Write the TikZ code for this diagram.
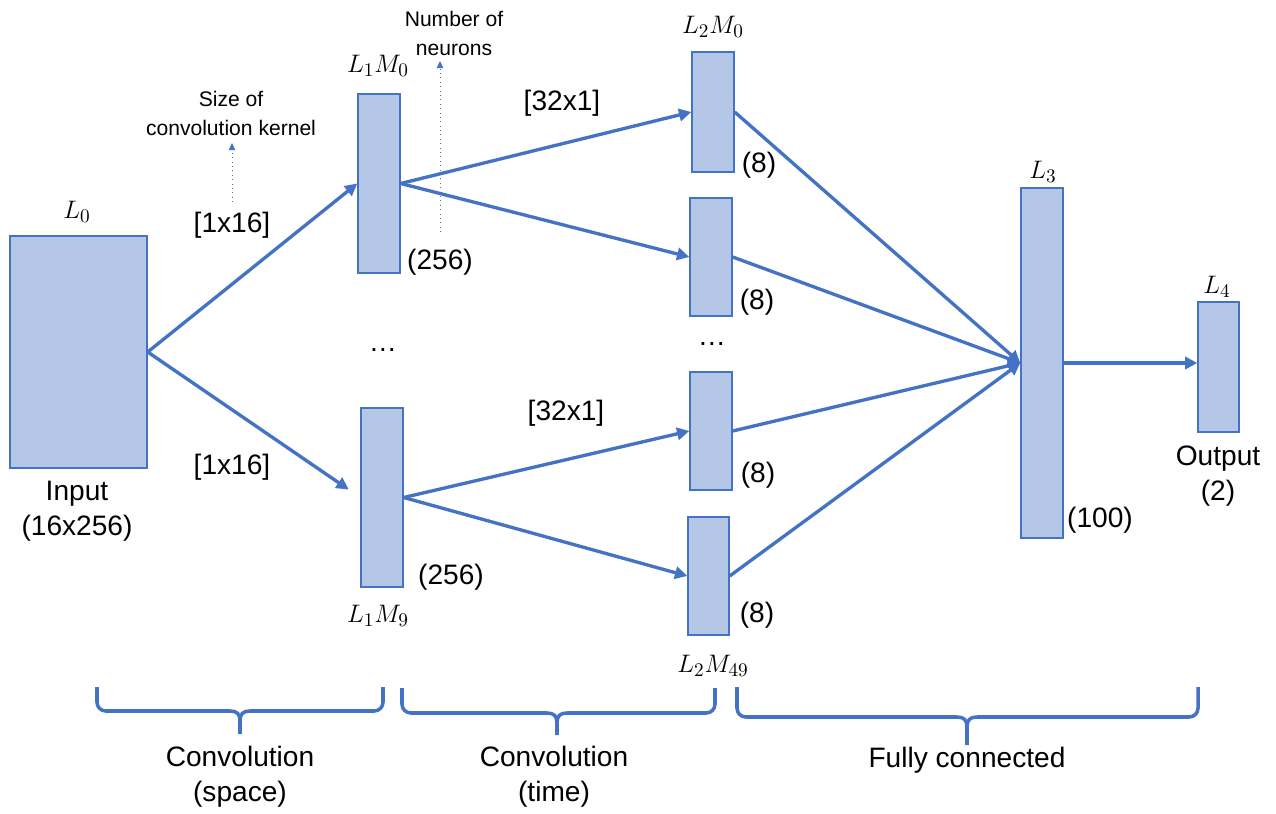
\documentclass[tikz,border=0pt]{standalone}
\usepackage{fontspec}
\setmainfont{Liberation Sans}
\usetikzlibrary{arrows.meta,fit}

\definecolor{boxfill}{HTML}{B4C7E7}
\definecolor{boxline}{HTML}{4472C4}
\definecolor{flow}{HTML}{4472C4}

\tikzset{
  layer/.style={draw=boxline, fill=boxfill, line width=0.8pt, inner sep=0pt, rectangle},
  conn/.style={draw=flow, line width=1.9pt, -{Triangle[length=7pt,width=7pt]}},
  note/.style={draw=flow, line width=0.5pt, dotted, -{Triangle[length=4pt,width=3.6pt]}},
  brace/.style={draw=flow, line width=2pt},
  lbl/.style={font=\fontsize{16}{20}\selectfont, align=center, inner sep=0pt},
  small/.style={font=\fontsize{12}{16.5}\selectfont, align=center, inner sep=0pt},
  mth/.style={font=\fontsize{15}{17}\selectfont, inner sep=0pt}
}

\newcommand\bracepath[6]{%
  % #1 left x, #2 right x, #3 middle x, #4 top y, #5 bar y, #6 tip y
  \draw[brace, rounded corners=5pt] (#1,#4) -- (#1,#5) -- (#3-10,#5);
  \draw[brace, rounded corners=5pt] (#2,#4) -- (#2,#5) -- (#3+10,#5);
  \draw[brace] (#3-10,#5) .. controls (#3-3,#5) and (#3,#5+3) .. (#3,#5+10) -- (#3,#6);
  \draw[brace] (#3+10,#5) .. controls (#3+3,#5) and (#3,#5+3) .. (#3,#5+10);
}

\begin{document}
\begin{tikzpicture}[x=0.02cm, y=-0.02cm]
\useasboundingbox (0,0) rectangle (1276,814);

% layers
\node[layer, fit={(10,236) (147,468)}] (L0) {};
\node[layer, fit={(358,94) (400,273)}] (L1a) {};
\node[layer, fit={(361,408) (403,587)}] (L1b) {};
\node[layer, fit={(692,52) (734,172)}] (L2a) {};
\node[layer, fit={(690,198) (732,316)}] (L2b) {};
\node[layer, fit={(690,372) (732,490)}] (L2c) {};
\node[layer, fit={(688,517) (729,635)}] (L2d) {};
\node[layer, fit={(1021,188) (1063,538)}] (L3) {};
\node[layer, fit={(1198,302) (1239,432)}] (L4) {};

% connections
\draw[conn] (L0.east) -- (L1a.west);
\draw[conn, shorten >=8pt] (L0.east) -- (L1b.west);
\draw[conn] (L1a.east) -- (L2a.west);
\draw[conn] (L1a.east) -- (L2b.west);
\draw[conn] (L1b.east) -- (L2c.west);
\draw[conn] (L1b.east) -- (L2d.west);
\draw[conn] (L2a.east) -- (L3.west);
\draw[conn] (L2b.east) -- (L3.west);
\draw[conn] (L2c.east) -- (L3.west);
\draw[conn] (L2d.east) -- (L3.west);
\draw[conn] (L3.east) -- (L3.east -| L4.west);

% annotation pointers
\coordinate (k0) at (232,202);
\coordinate (k1) at (232,143);
\coordinate (n0) at (440,232);
\coordinate (n1) at (440,61);
\draw[note] (k0) -- (k1);
\draw[note] (n0) -- (n1);

% texts
\node[mth] (t0) at (77,212) {$L_0$};
\node[lbl] (tin) at (77,511) {Input\\(16x256)};
\node[lbl] (k16a) at (232,225) {[1x16]};
\node[lbl] (k16b) at (232,467) {[1x16]};
\node[small] (tsize) at (231,113) {Size of\\convolution kernel};
\node[small] (tnum) at (454,33) {Number of\\neurons};
\node[mth] (t1a) at (378,66) {$L_1M_0$};
\node[lbl] (n256a) at (440,262) {(256)};
\node[lbl] (dots1) at (383,350) {\dots};
\node[lbl] (n256b) at (451,577) {(256)};
\node[mth] (t1b) at (378,616) {$L_1M_9$};
\node[lbl] (k32a) at (562,103) {[32x1]};
\node[lbl] (k32b) at (566,413) {[32x1]};
\node[mth] (t2a) at (713,27) {$L_2M_0$};
\node[lbl] (n8a) at (759,165) {(8)};
\node[lbl] (n8b) at (757,302) {(8)};
\node[lbl] (dots2) at (712,344) {\dots};
\node[lbl] (n8c) at (758,475) {(8)};
\node[lbl] (n8d) at (757,615) {(8)};
\node[mth] (t2d) at (713,666) {$L_2M_{49}$};
\node[mth] (t3) at (1043,172) {$L_3$};
\node[lbl] (n100) at (1100,520) {(100)};
\node[mth] (t4) at (1217,287) {$L_4$};
\node[lbl] (tout) at (1218,476) {Output\\(2)};

% stage braces
\bracepath{97}{383}{240}{687}{711}{734}
\bracepath{402}{715}{557}{688}{713}{735}
\bracepath{737}{1198}{967}{687}{717}{745}
\node[lbl] (s1) at (240,777) {Convolution\\(space)};
\node[lbl] (s2) at (554,777) {Convolution\\(time)};
\node[lbl] (s3) at (967,760) {Fully connected};
\end{tikzpicture}
\end{document}
